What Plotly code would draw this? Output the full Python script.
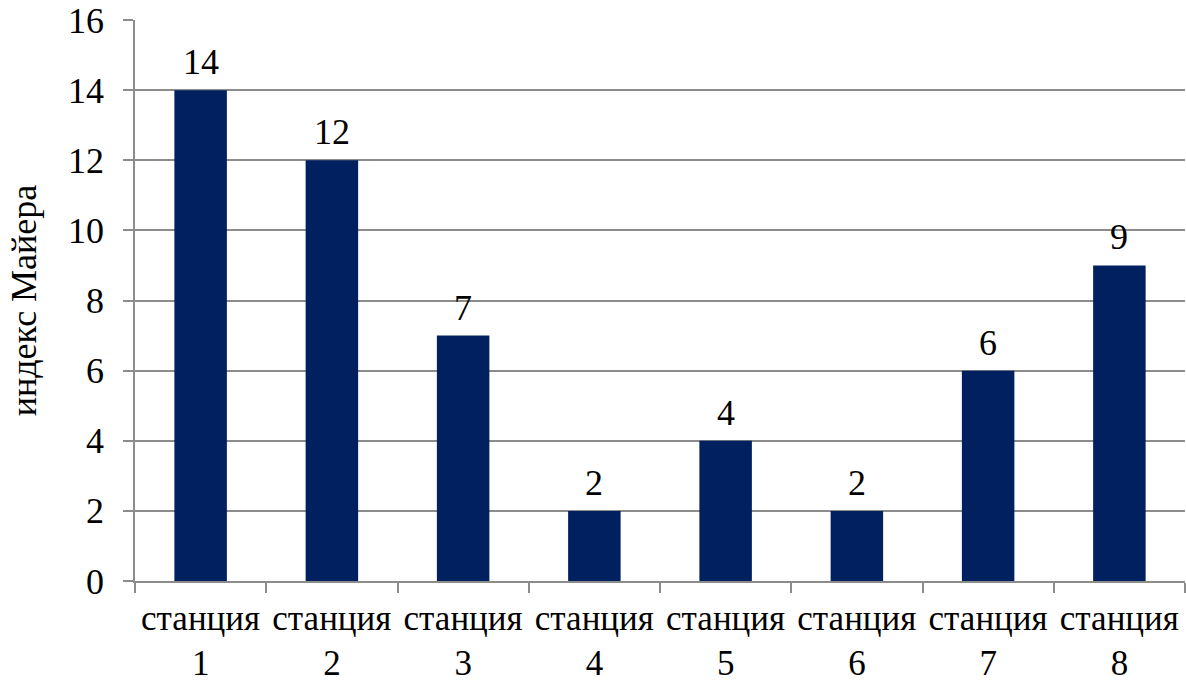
import plotly.graph_objects as go

stations = ["станция<br>1", "станция<br>2", "станция<br>3", "станция<br>4",
            "станция<br>5", "станция<br>6", "станция<br>7", "станция<br>8"]
mayer_index = [14, 12, 7, 2, 4, 2, 6, 9]
y_ticks = [0, 2, 4, 6, 8, 10, 12, 14, 16]

FONT = "Times New Roman, Liberation Serif, serif"
FS = 36
BAR_COLOR = "#002060"
GRID = "#8c8c8c"

fig = go.Figure(
    go.Bar(
        x=stations,
        y=mayer_index,
        marker=dict(color=BAR_COLOR, line=dict(width=0)),
        width=0.4,
        hoverinfo="skip",
    )
)

for name, val in zip(stations, mayer_index):
    fig.add_annotation(
        x=name, y=val, text=str(val), showarrow=False,
        yanchor="bottom", yshift=6,
        font=dict(family=FONT, size=FS, color="black"),
    )

fig.update_layout(
    width=1186, height=684,
    margin=dict(l=135, r=1, t=20, b=103, autoexpand=False),
    paper_bgcolor="white", plot_bgcolor="white",
    showlegend=False,
    font=dict(family=FONT, size=FS, color="black"),
)

fig.update_xaxes(
    type="category",
    tickson="boundaries",
    tickangle=0,
    ticks="outside", ticklen=10, tickcolor=GRID, tickwidth=1.5,
    showline=True, linecolor=GRID, linewidth=1.5,
    showgrid=False,
    automargin=False,
    ticklabelstandoff=5,
    tickfont=dict(family=FONT, size=35, color="black"),
)

fig.update_yaxes(
    range=[0, 16],
    tickvals=y_ticks,
    ticks="outside", ticklen=10, tickcolor=GRID, tickwidth=1.5,
    showline=True, linecolor=GRID, linewidth=1.5,
    showgrid=True, gridcolor=GRID, gridwidth=1.5,
    zeroline=False,
    automargin=False,
    ticklabelstandoff=12,
    tickfont=dict(family=FONT, size=FS, color="black"),
    title=dict(text="индекс Майера", font=dict(family=FONT, size=FS, color="black"), standoff=20),
)

fig.write_html("out.html")
